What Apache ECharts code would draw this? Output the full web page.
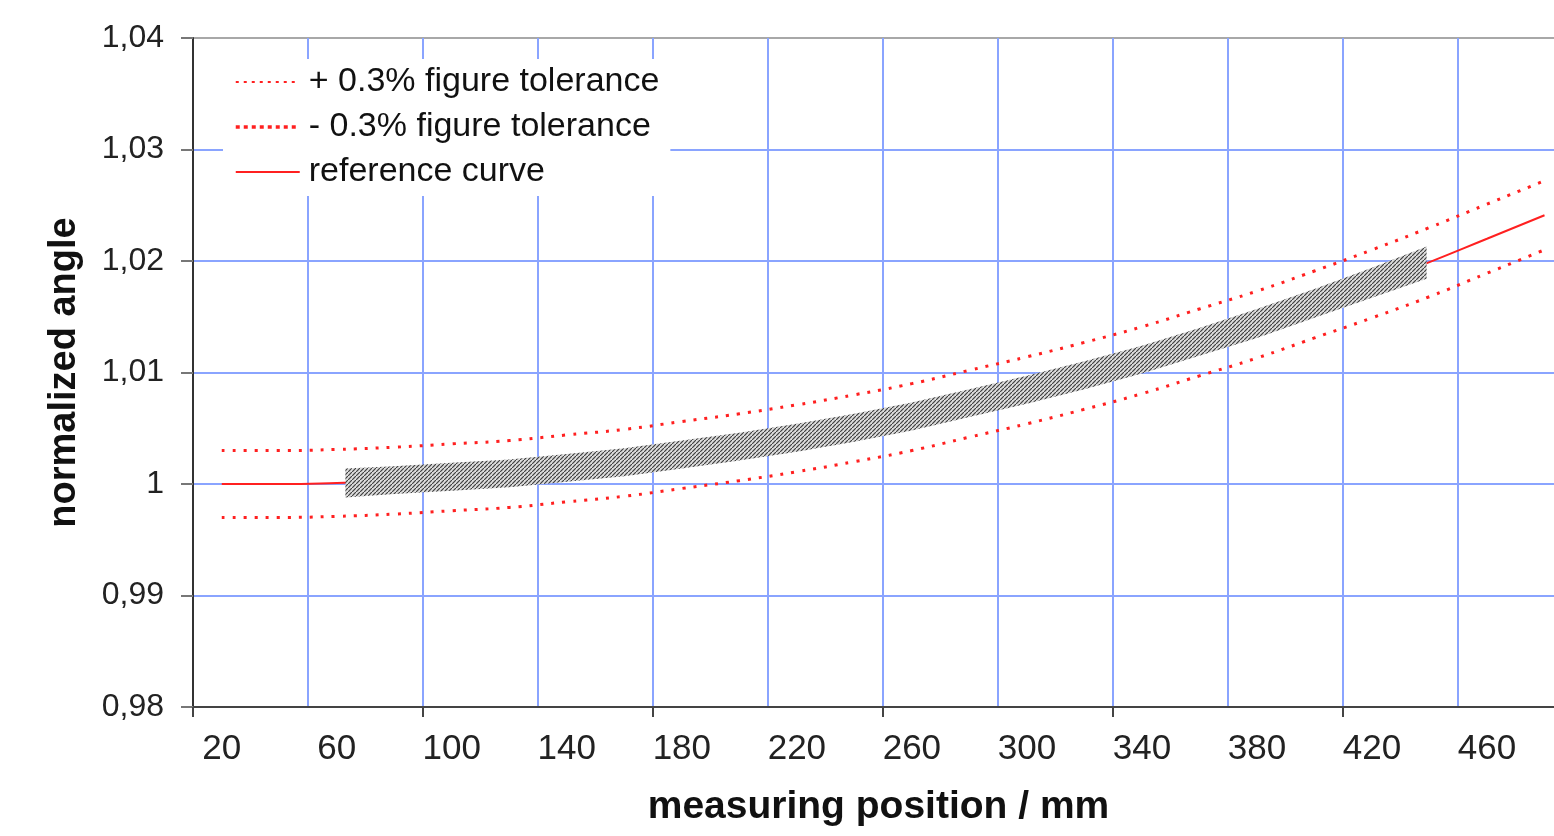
<!DOCTYPE html>
<html>
<head>
<meta charset="utf-8">
<script src="https://cdn.jsdelivr.net/npm/echarts@6/dist/echarts.min.js"></script>
<style>
html,body{margin:0;padding:0;background:#fff;overflow:hidden;}
#chart{width:1554px;height:836px;}
</style>
</head>
<body>
<div id="chart"></div>
<script>
// ---- data ----
const xPos = [20,40,60,80,100,120,140,160,180,200,220,240,260,280,300,320,340,360,380,400,420,440,460,480];
const refCurve = [1.0000,1.0000,1.0001,1.0003,1.0006,1.0009,1.0014,1.0019,1.0026,1.0033,1.0041,1.0050,1.0060,1.0072,1.0084,1.0097,1.0111,1.0127,1.0143,1.0161,1.0179,1.0199,1.0220,1.0241];
const upperTol = [1.0030,1.0030,1.0031,1.0033,1.0036,1.0039,1.0044,1.0049,1.0056,1.0063,1.0071,1.0080,1.0090,1.0102,1.0114,1.0127,1.0141,1.0157,1.0173,1.0191,1.0210,1.0230,1.0251,1.0272];
const lowerTol = [0.9970,0.9970,0.9971,0.9973,0.9976,0.9979,0.9984,0.9989,0.9996,1.0003,1.0011,1.0020,1.0030,1.0042,1.0054,1.0067,1.0081,1.0097,1.0113,1.0131,1.0149,1.0168,1.0189,1.0210];
const bandX = [63,80,100,120,140,160,180,200,220,240,260,280,300,320,340,360,380,400,420,439];
const bandLow = [0.9988,0.9991,0.9994,0.9997,1.0002,1.0007,1.0014,1.0021,1.0029,1.0038,1.0048,1.0060,1.0072,1.0085,1.0099,1.0115,1.0131,1.0149,1.0167,1.0184];
const bandHigh = [1.0014,1.0016,1.0019,1.0022,1.0027,1.0032,1.0039,1.0046,1.0054,1.0063,1.0073,1.0085,1.0097,1.0110,1.0124,1.0140,1.0157,1.0175,1.0194,1.0213];
const xTickLabels = ['20','60','100','140','180','220','260','300','340','380','420','460'];
const yTickLabels = ['0,98','0,99','1','1,01','1,02','1,03','1,04'];
const seriesNames = ['+ 0.3% figure tolerance','- 0.3% figure tolerance','reference curve'];

function hatch(){
  const c = document.createElement('canvas');
  c.width = 4; c.height = 4;
  const g = c.getContext('2d');
  g.fillStyle = '#dcdcdc'; g.fillRect(0,0,4,4);
  g.strokeStyle = '#404040'; g.lineWidth = 1.2;
  g.beginPath(); g.moveTo(-1,5); g.lineTo(5,-1); g.stroke();
  return c;
}
const hatchImg = hatch();

const FONT = 'Liberation Sans, Arial, sans-serif';
const RED = '#ff2020';
const GRID = '#8aa4ff';
const XMIN = 10, XMAX = 484;

const chart = echarts.init(document.getElementById('chart'), null, {renderer:'canvas', width:1554, height:836});
chart.setOption({
  animation: false,
  backgroundColor: '#fff',
  grid: {left:193, width:1363, top:38, bottom:129, containLabel:false, outerBoundsMode:'none'},
  legend: {
    orient:'vertical', left:223, top:59,
    backgroundColor:'#fff', borderWidth:0,
    padding:[5,11,6,11],
    itemWidth:64, itemHeight:14, itemGap:9,
    itemStyle:{opacity:0},
    textStyle:{fontFamily:FONT, fontSize:34, color:'#111', lineHeight:36, padding:[0,0,0,4]},
    data:[
      {name:seriesNames[0], itemStyle:{opacity:0}, lineStyle:{type:[3,5], width:2, color:RED}},
      {name:seriesNames[1], itemStyle:{opacity:0}, lineStyle:{type:[4,4], width:3.5, color:RED}},
      {name:seriesNames[2], itemStyle:{opacity:0}, lineStyle:{type:'solid', width:2, color:RED}}
    ]
  },
  xAxis: [
    { // gridlines + axis line
      type:'value', position:'bottom', min:XMIN, max:XMAX, interval:40,
      axisLine:{show:true, onZero:false, lineStyle:{color:'#444', width:2}},
      axisTick:{show:false}, axisLabel:{show:false},
      splitLine:{show:true, showMinLine:false, showMaxLine:false, lineStyle:{color:GRID, width:2}}
    },
    { // major tick marks
      type:'value', position:'bottom', min:XMIN, max:XMAX, interval:80,
      axisLine:{show:false, onZero:false},
      axisTick:{show:true, length:10, lineStyle:{color:'#444', width:2}},
      axisLabel:{show:false}, splitLine:{show:false}
    },
    { // labels + name
      type:'value', position:'bottom', min:XMIN, max:XMAX, interval:10,
      axisLine:{show:false, onZero:false}, axisTick:{show:false}, splitLine:{show:false},
      axisLabel:{show:true, margin:25, fontFamily:FONT, fontSize:35, color:'#222',
        showMinLabel:true, showMaxLabel:true,
        formatter:function(v){ const s = String(Math.round(v)); return xTickLabels.indexOf(s) >= 0 ? s : ''; }},
      name:'measuring position / mm', nameLocation:'middle', nameGap:81,
      nameTextStyle:{fontFamily:FONT, fontSize:39, fontWeight:'bold', color:'#111', padding:[0,0,0,8]}
    }
  ],
  yAxis: {
    type:'value', min:0.98, max:1.04, interval:0.01,
    axisLine:{show:true, onZero:false, lineStyle:{color:'#333', width:2}},
    axisTick:{show:true, inside:false, length:12, lineStyle:{color:'#777', width:2}},
    axisLabel:{margin:29, fontFamily:FONT, fontSize:32, color:'#222',
      formatter:function(v, i){ return yTickLabels[i]; }},
    splitLine:{show:true, showMinLine:true, showMaxLine:true,
      lineStyle:{color:[GRID,GRID,GRID,GRID,GRID,GRID,'#a8a8a8'], width:2}},
    name:'normalized angle', nameLocation:'middle', nameGap:109, nameRotate:90,
    nameTextStyle:{fontFamily:FONT, fontSize:38, fontWeight:'bold', color:'#111'}
  },
  series: [
    {name:seriesNames[0], type:'line', xAxisIndex:0, symbol:'none', smooth:true,
     itemStyle:{color:RED},
     data:xPos.map((x,i)=>[x, upperTol[i]]),
     lineStyle:{color:RED, width:3, type:[3,8], cap:'butt'}, z:3},
    {name:seriesNames[1], type:'line', xAxisIndex:0, symbol:'none', smooth:true,
     itemStyle:{color:RED},
     data:xPos.map((x,i)=>[x, lowerTol[i]]),
     lineStyle:{color:RED, width:3, type:[3,8], cap:'butt'}, z:3},
    {name:seriesNames[2], type:'line', xAxisIndex:0, symbol:'none', smooth:true,
     itemStyle:{color:RED},
     data:xPos.map((x,i)=>[x, refCurve[i]]),
     lineStyle:{color:RED, width:2, type:'solid'}, z:3},
    {name:'measured band', type:'custom', xAxisIndex:0, z:4, silent:true,
     data:bandX.map((x,i)=>[x, bandLow[i], bandHigh[i]]),
     encode:{x:0, y:[1,2]},
     renderItem:function(params, api){
       if (params.dataIndex !== 0) return null;
       const top = [], bot = [];
       for (let i = 0; i < bandX.length; i++) {
         top.push(api.coord([bandX[i], bandHigh[i]]));
         bot.push(api.coord([bandX[i], bandLow[i]]));
       }
       const pts = top.concat(bot.reverse());
       return {
         type:'polygon',
         shape:{points:pts, smooth:0},
         style:{fill:{image:hatchImg, repeat:'repeat'}, stroke:null}
       };
     }}
  ]
});
</script>
</body>
</html>
